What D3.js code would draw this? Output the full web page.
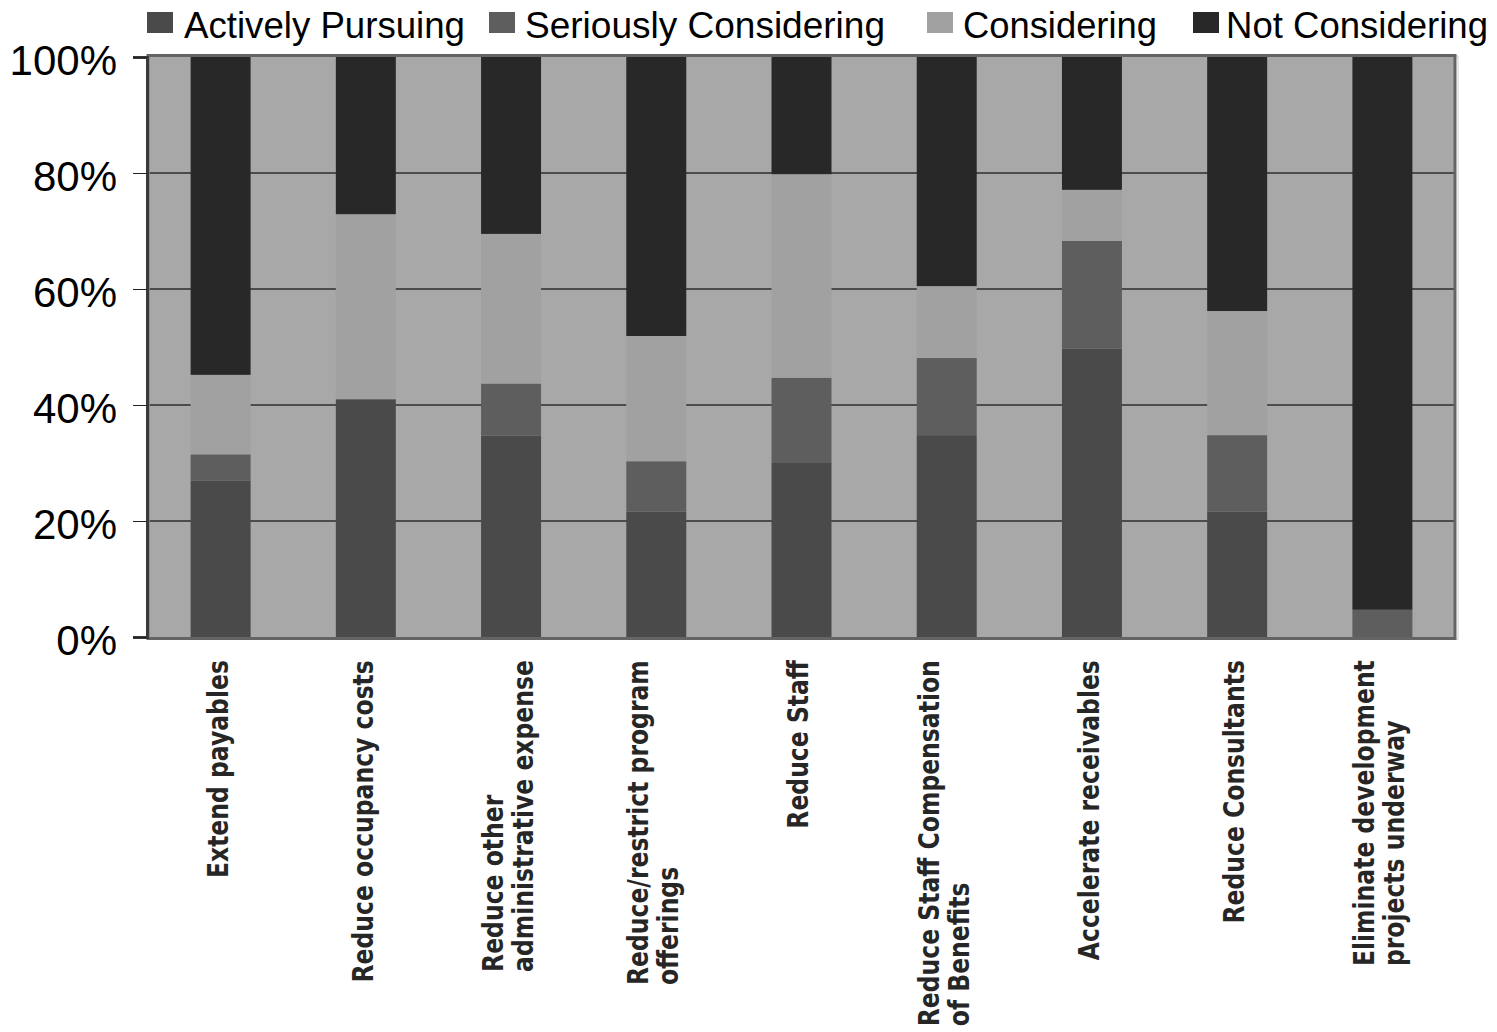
<!DOCTYPE html>
<html>
<head>
<meta charset="utf-8">
<script src="https://cdn.jsdelivr.net/npm/d3@7"></script>
<style>
  body { margin: 0; background: #fff; }
  svg { display: block; }
</style>
</head>
<body>
<div id="chart"></div>
<script>
// categories and series (percent of respondents)
var categories = [
    "Extend payables",
    "Reduce occupancy costs",
    "Reduce other administrative expense",
    "Reduce/restrict program offerings",
    "Reduce Staff",
    "Reduce Staff Compensation of Benefits",
    "Accelerate receivables",
    "Reduce Consultants",
    "Eliminate development projects underway"
];
// how each category label wraps
var labelLines = [
    ["Extend payables"],
    ["Reduce occupancy costs"],
    ["Reduce other", "administrative expense"],
    ["Reduce/restrict program", "offerings"],
    ["Reduce Staff"],
    ["Reduce Staff Compensation", "of Benefits"],
    ["Accelerate receivables"],
    ["Reduce Consultants"],
    ["Eliminate development", "projects underway"]
];
var seriesNames = ["Actively Pursuing", "Seriously Considering", "Considering", "Not Considering"];
var activelyPursuing     = [27.0, 41.0, 34.7, 21.6, 30.0, 34.8, 49.7, 21.6, 0.0];
var seriouslyConsidering = [4.5, 0.0, 9.0, 8.7, 14.7, 13.3, 18.6, 13.2, 4.7];
var considering          = [13.7, 31.9, 25.8, 21.6, 35.1, 12.4, 8.8, 21.4, 0.0];
var notConsidering       = [54.8, 27.1, 30.5, 48.1, 20.2, 39.5, 22.9, 43.8, 95.3];
var yTicks = [0, 20, 40, 60, 80, 100];

var svgWidth = 1497;
var svgHeight = 1032;
var plot = { left: 148, right: 1455, top: 57, bottom: 637 };

var colors = {
    "Actively Pursuing": "#4a4a4a",
    "Seriously Considering": "#5e5e5e",
    "Considering": "#a1a1a1",
    "Not Considering": "#282828"
};

var svg = d3.select("#chart")
    .append("svg")
    .attr("width", svgWidth)
    .attr("height", svgHeight);

// build rows for the stack
var rows = categories.map(function(c, i) {
    return {
        category: c,
        "Actively Pursuing": activelyPursuing[i],
        "Seriously Considering": seriouslyConsidering[i],
        "Considering": considering[i],
        "Not Considering": notConsidering[i]
    };
});
var stacked = d3.stack().keys(seriesNames)(rows);

var xScale = d3.scaleBand()
    .domain(categories)
    .range([plot.left, plot.right])
    .paddingInner(0.587)
    .paddingOuter(0.2935);

var yScale = d3.scaleLinear()
    .domain([0, 100])
    .range([plot.bottom, plot.top]);

// plot background
svg.append("rect")
    .attr("x", plot.left)
    .attr("y", plot.top)
    .attr("width", plot.right - plot.left)
    .attr("height", plot.bottom - plot.top)
    .attr("fill", "#a8a8a8");

// gridlines
svg.append("g")
    .selectAll("line")
    .data(yTicks.filter(function(t) { return t > 0 && t < 100; }))
    .enter()
    .append("line")
    .attr("x1", plot.left)
    .attr("x2", plot.right)
    .attr("y1", d => yScale(d))
    .attr("y2", d => yScale(d))
    .attr("stroke", "#2e2e2e")
    .attr("stroke-width", 1.5);

// stacked bars
svg.append("g")
    .selectAll("g")
    .data(stacked)
    .enter()
    .append("g")
    .attr("fill", d => colors[d.key])
    .selectAll("rect")
    .data(d => d)
    .enter()
    .append("rect")
    .attr("x", d => xScale(d.data.category))
    .attr("y", d => yScale(d[1]))
    .attr("width", xScale.bandwidth())
    .attr("height", d => yScale(d[0]) - yScale(d[1]));

// outer frame: light shadow then grey border
svg.append("rect")
    .attr("x", plot.left + 1)
    .attr("y", plot.top - 1)
    .attr("width", plot.right - plot.left + 2)
    .attr("height", plot.bottom - plot.top + 3)
    .attr("fill", "none")
    .attr("stroke", "#cccccc")
    .attr("stroke-width", 1);
svg.append("rect")
    .attr("x", plot.left)
    .attr("y", plot.top - 1.5)
    .attr("width", plot.right - plot.left)
    .attr("height", plot.bottom - plot.top + 3)
    .attr("fill", "none")
    .attr("stroke", "#646464")
    .attr("stroke-width", 3);

// left axis
var leftAxis = d3.axisLeft(yScale)
    .tickValues(yTicks)
    .tickSize(14)
    .tickPadding(16)
    .tickFormat(d => d + "%");

var yAxisG = svg.append("g")
    .attr("transform", `translate(${plot.left - 1}, 0)`)
    .call(leftAxis);
yAxisG.select(".domain")
    .attr("stroke", "#3a3a3a")
    .attr("stroke-width", 3);
yAxisG.selectAll(".tick line")
    .attr("stroke", "#222");
yAxisG.selectAll(".tick text")
    .attr("font-family", "'Liberation Sans', Arial, sans-serif")
    .attr("font-size", 42)
    .attr("fill", "#000")
    .attr("dy", "0.42em");

// category labels, rotated, bold
var labelTop = 660;
var lineGap = 30;
var stretch = 1.17;
var labelG = svg.append("g");
labelLines.forEach(function(lines, i) {
    var cx = xScale(categories[i]) + xScale.bandwidth() / 2 - 3;
    var texts = lines.map(function(line, j) {
        return labelG.append("text")
            .attr("font-family", "'DejaVu Sans', Verdana, sans-serif")
            .attr("font-weight", "bold")
            .attr("font-size", 23.5)
            .attr("fill", "#262626")
            .attr("text-anchor", "start")
            .attr("dy", "0.36em")
            .text(line);
    });
    var maxLen = d3.max(texts, t => t.node().getComputedTextLength());
    texts.forEach(function(t, j) {
        var x = cx + (j - (lines.length - 1) / 2) * lineGap;
        t.attr("transform", `translate(${x}, ${labelTop + maxLen}) scale(${stretch}, 1) rotate(-90)`);
    });
});

// legend
var legendItems = [
    { name: "Actively Pursuing", box: 147, text: 184, w: 281 },
    { name: "Seriously Considering", box: 489, text: 525, w: 360 },
    { name: "Considering", box: 927, text: 963, w: 194 },
    { name: "Not Considering", box: 1193, text: 1226, w: 262 }
];
var legend = svg.append("g");
legendItems.forEach(function(item) {
    legend.append("rect")
        .attr("x", item.box)
        .attr("y", 12)
        .attr("width", 26)
        .attr("height", 21)
        .attr("fill", colors[item.name]);
    legend.append("text")
        .attr("x", item.text)
        .attr("y", 38)
        .attr("font-family", "'Liberation Sans', Arial, sans-serif")
        .attr("font-size", 36)
        .attr("textLength", item.w)
        .attr("lengthAdjust", "spacingAndGlyphs")
        .attr("fill", "#000")
        .text(item.name);
});
</script>
</body>
</html>
